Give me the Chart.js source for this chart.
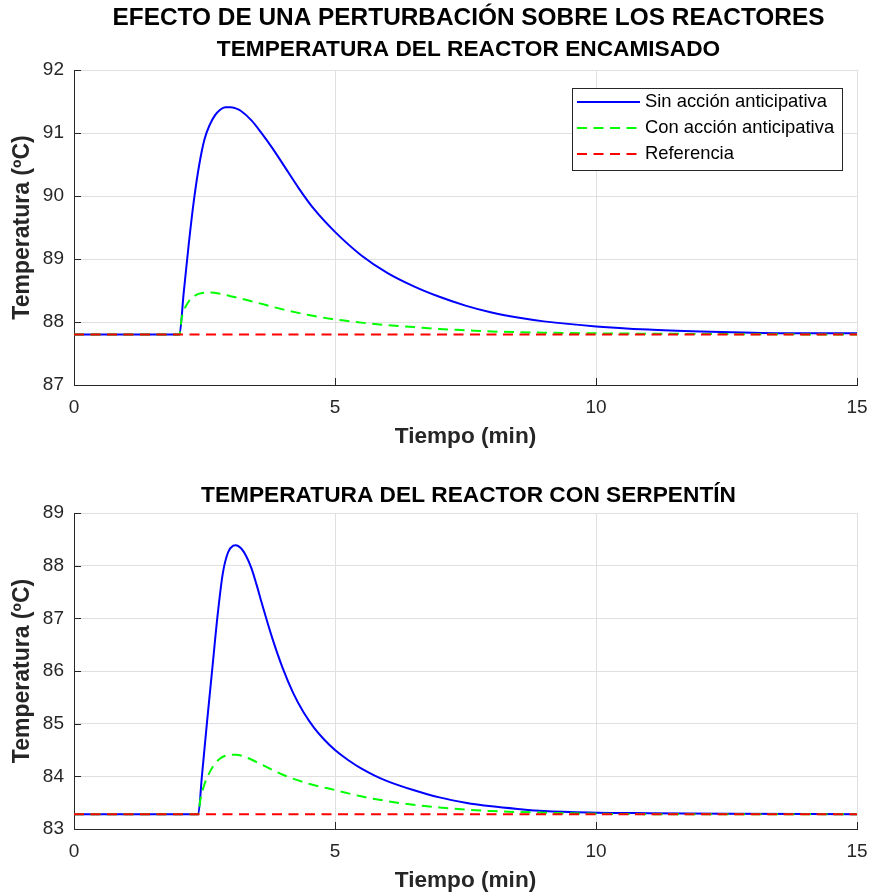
<!DOCTYPE html>
<html>
<head>
<meta charset="utf-8">
<script src="https://cdn.jsdelivr.net/npm/chart.js@4.4.1/dist/chart.umd.min.js"></script>
<style>
  html, body { margin: 0; padding: 0; background: #fff; }
  #wrap { position: relative; width: 871px; height: 894px; }
  .box { position: absolute; left: 0; width: 871px; }
</style>
</head>
<body>
<div id="wrap">
  <div class="box" style="top:0;height:450px"><canvas id="topChart"></canvas></div>
  <div class="box" style="top:450px;height:444px"><canvas id="bottomChart"></canvas></div>
</div>
<script>
// textos
const mainTitle = "EFECTO DE UNA PERTURBACIÓN SOBRE LOS REACTORES";
const topTitle = "TEMPERATURA DEL REACTOR ENCAMISADO";
const bottomTitle = "TEMPERATURA DEL REACTOR CON SERPENTÍN";
const xLabel = "Tiempo (min)";
const yLabel = "Temperatura (ºC)";
const seriesNames = ["Sin acción anticipativa", "Con acción anticipativa", "Referencia"];

// ejes
const xTicks = [0, 5, 10, 15];
const yTicksTop = [87, 88, 89, 90, 91, 92];
const yTicksBottom = [83, 84, 85, 86, 87, 88, 89];

// reactor encamisado
const refTop = 87.8;
const tSinTop = [0, 2.02, 2.1, 2.2, 2.3, 2.4, 2.5, 2.6, 2.7, 2.8, 2.9, 3.0, 3.1, 3.2, 3.4, 3.6, 3.8, 4.0, 4.3, 4.6, 5.0, 5.5, 6.0, 6.5, 7.0, 7.5, 8.0, 8.5, 9.0, 10.0, 11.0, 12.0, 13.0, 14.0, 15];
const sinTop = [87.8, 87.8, 88.45, 89.25, 89.95, 90.5, 90.9, 91.13, 91.28, 91.37, 91.41, 91.41, 91.39, 91.35, 91.2, 90.99, 90.76, 90.51, 90.13, 89.79, 89.43, 89.06, 88.78, 88.57, 88.4, 88.26, 88.15, 88.07, 88.01, 87.93, 87.88, 87.85, 87.83, 87.82, 87.82];
const tConTop = [0, 2.02, 2.06, 2.1, 2.2, 2.3, 2.4, 2.5, 2.6, 2.8, 3.0, 3.4, 4.0, 4.5, 5.0, 5.5, 6.0, 6.5, 7.0, 7.5, 8.0, 9.0, 10.0, 12.0, 15];
const conTop = [87.8, 87.8, 88.05, 88.17, 88.33, 88.41, 88.45, 88.465, 88.47, 88.45, 88.41, 88.33, 88.2, 88.11, 88.04, 87.99, 87.95, 87.92, 87.89, 87.87, 87.85, 87.83, 87.82, 87.81, 87.8];

// reactor con serpentin
const refBottom = 83.28;
const tSinBottom = [0, 2.38, 2.45, 2.55, 2.65, 2.75, 2.85, 2.95, 3.05, 3.1, 3.2, 3.3, 3.4, 3.5, 3.6, 3.8, 4.0, 4.2, 4.4, 4.6, 4.8, 5.0, 5.25, 5.5, 5.75, 6.0, 6.5, 7.0, 7.5, 8.0, 8.5, 9.0, 10.0, 11.0, 12.5, 15];
const sinBottom = [83.28, 83.28, 84.0, 85.05, 86.05, 87.05, 87.85, 88.25, 88.38, 88.39, 88.33, 88.18, 87.95, 87.63, 87.28, 86.62, 86.05, 85.58, 85.21, 84.92, 84.69, 84.5, 84.31, 84.15, 84.02, 83.91, 83.74, 83.6, 83.5, 83.43, 83.38, 83.34, 83.31, 83.3, 83.29, 83.28];
const tConBottom = [0, 2.38, 2.42, 2.5, 2.6, 2.7, 2.8, 2.9, 3.0, 3.1, 3.3, 3.5, 4.0, 4.5, 5.0, 5.5, 6.0, 6.5, 7.0, 7.5, 8.0, 9.0, 10.0, 12.0, 15];
const conBottom = [83.28, 83.28, 83.55, 83.85, 84.08, 84.24, 84.34, 84.39, 84.41, 84.41, 84.36, 84.27, 84.03, 83.86, 83.74, 83.62, 83.53, 83.46, 83.41, 83.37, 83.34, 83.31, 83.29, 83.28, 83.28];

const FONT = "'Liberation Sans', Arial, Helvetica, sans-serif";
const INK = "#262626";
const GRID = "#e0e0e0";

function toPoints(ts, vs) {
  return ts.map((t, i) => ({ x: t, y: vs[i] }));
}

// titulos centrados sobre el area de la grafica
const titlesPlugin = {
  id: "titles",
  afterDraw(chart, args, opts) {
    const ctx = chart.ctx;
    const cx = (chart.chartArea.left + chart.chartArea.right) / 2 + 3;
    ctx.save();
    ctx.fillStyle = "#000";
    ctx.textAlign = "center";
    ctx.textBaseline = "middle";
    (opts.lines || []).forEach((l) => {
      ctx.font = "bold " + l.size + "px " + FONT;
      ctx.fillText(l.text, cx, l.y);
    });
    ctx.restore();
  }
};

// marcas de los ejes hacia dentro (estilo matlab)
const innerTicksPlugin = {
  id: "innerTicks",
  afterDraw(chart) {
    const { ctx, chartArea, scales } = chart;
    ctx.save();
    ctx.strokeStyle = INK;
    ctx.lineWidth = 1;
    ctx.beginPath();
    scales.x.ticks.forEach((t) => {
      const px = Math.round(scales.x.getPixelForValue(t.value)) + 0.5;
      ctx.moveTo(px, chartArea.bottom);
      ctx.lineTo(px, chartArea.bottom - 7);
    });
    scales.y.ticks.forEach((t) => {
      const py = Math.round(scales.y.getPixelForValue(t.value)) + 0.5;
      ctx.moveTo(chartArea.left, py);
      ctx.lineTo(chartArea.left + 7, py);
    });
    ctx.stroke();
    ctx.restore();
  }
};

// leyenda dentro de la grafica
const boxLegendPlugin = {
  id: "boxLegend",
  afterDraw(chart, args, opts) {
    if (!opts.show) return;
    const ctx = chart.ctx;
    const x0 = 572, y0 = 88, w = 270, h = 82;
    ctx.save();
    ctx.fillStyle = "#fff";
    ctx.fillRect(x0, y0, w, h);
    ctx.strokeStyle = INK;
    ctx.lineWidth = 1;
    ctx.strokeRect(x0 + 0.5, y0 + 0.5, w, h);
    ctx.font = "18.4px " + FONT;
    ctx.textBaseline = "middle";
    chart.data.datasets.forEach((ds, i) => {
      const y = y0 + 14 + i * 26;
      ctx.strokeStyle = ds.borderColor;
      ctx.lineWidth = ds.borderWidth;
      ctx.setLineDash(ds.borderDash || []);
      ctx.beginPath();
      ctx.moveTo(x0 + 5, y);
      ctx.lineTo(x0 + 68, y);
      ctx.stroke();
      ctx.setLineDash([]);
      ctx.fillStyle = "#000";
      ctx.fillText(ds.label, x0 + 73, y);
    });
    ctx.restore();
  }
};

function makeChart(id, cfg) {
  const datasets = [
    {
      label: seriesNames[0],
      data: toPoints(cfg.tSin, cfg.sin),
      borderColor: "#0000ff",
      borderWidth: 2,
      order: 3
    },
    {
      label: seriesNames[1],
      data: toPoints(cfg.tCon, cfg.con),
      borderColor: "#00ff00",
      borderWidth: 2,
      borderDash: [10, 6.5],
      order: 2
    },
    {
      label: seriesNames[2],
      data: toPoints([xTicks[0], xTicks[xTicks.length - 1]], [cfg.ref, cfg.ref]),
      borderColor: "#ff0000",
      borderWidth: 2,
      borderDash: [10, 6.5],
      order: 1
    }
  ];

  return new Chart(document.getElementById(id), {
    type: "line",
    data: { datasets },
    plugins: [titlesPlugin, innerTicksPlugin, boxLegendPlugin],
    options: {
      responsive: true,
      maintainAspectRatio: false,
      animation: false,
      devicePixelRatio: 1,
      layout: { padding: { top: cfg.padTop, right: 14, bottom: 0, left: 0 } },
      elements: {
        point: { radius: 0 },
        line: { cubicInterpolationMode: "monotone", fill: false }
      },
      plugins: {
        legend: { display: false },
        tooltip: { enabled: false },
        titles: { lines: cfg.titles },
        boxLegend: { show: cfg.legend }
      },
      scales: {
        x: {
          type: "linear",
          min: xTicks[0],
          max: xTicks[xTicks.length - 1],
          afterBuildTicks: (s) => { s.ticks = xTicks.map((v) => ({ value: v })); },
          afterFit: (s) => {
            s.height = 65;
            s.paddingLeft = 0;
            s.paddingRight = 0;
          },
          grid: { color: GRID, lineWidth: 1, drawTicks: false },
          border: { display: true, color: INK, width: 1 },
          ticks: { color: INK, padding: 11, font: { family: FONT, size: 19 } },
          title: {
            display: true,
            text: xLabel,
            color: INK,
            padding: { top: 0, bottom: 0 },
            font: { family: FONT, size: 22.6, weight: "bold", lineHeight: 1.2 }
          }
        },
        y: {
          type: "linear",
          min: cfg.yTicks[0],
          max: cfg.yTicks[cfg.yTicks.length - 1],
          afterBuildTicks: (s) => { s.ticks = cfg.yTicks.map((v) => ({ value: v })); },
          afterFit: (s) => {
            s.width = 74;
            s.paddingTop = 0;
            s.paddingBottom = 0;
          },
          grid: { color: GRID, lineWidth: 1, drawTicks: false },
          border: { display: true, color: INK, width: 1 },
          ticks: { color: INK, padding: 10, font: { family: FONT, size: 19 } },
          title: {
            display: true,
            text: yLabel,
            color: INK,
            padding: { top: 9, bottom: 0 },
            font: { family: FONT, size: 23, weight: "bold", lineHeight: 1.2 }
          }
        }
      }
    }
  });
}

makeChart("topChart", {
  tSin: tSinTop, sin: sinTop, tCon: tConTop, con: conTop, ref: refTop,
  yTicks: yTicksTop,
  padTop: 70,
  legend: true,
  titles: [
    { text: mainTitle, size: 24.4, y: 18 },
    { text: topTitle, size: 22.7, y: 50 }
  ]
});

makeChart("bottomChart", {
  tSin: tSinBottom, sin: sinBottom, tCon: tConBottom, con: conBottom, ref: refBottom,
  yTicks: yTicksBottom,
  padTop: 63,
  legend: false,
  titles: [
    { text: bottomTitle, size: 22.7, y: 46 }
  ]
});
</script>
</body>
</html>
